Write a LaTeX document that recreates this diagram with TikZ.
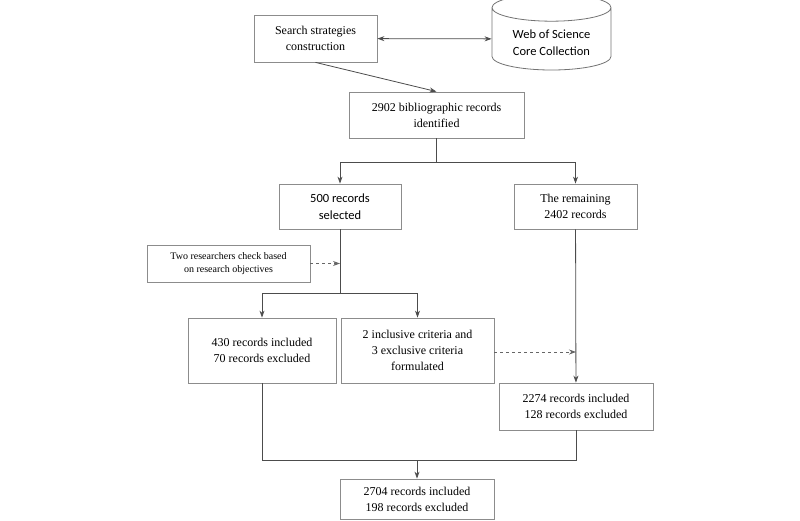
\documentclass[tikz,border=0pt]{standalone}
\usepackage{fontspec}
\setmainfont{Liberation Serif}
\newfontfamily\carl{Carlito}
\usetikzlibrary{shapes.geometric,arrows.meta}
\begin{document}
\begin{tikzpicture}[x=1pt,y=-1pt,
 box/.style={draw=black!45,line width=0.8pt,align=center,font=\fontsize{12}{16}\selectfont,inner sep=0pt},
 ln/.style={draw=black!70,line width=0.8pt},
 ar/.style={ln,-{Stealth[length=7pt,width=5pt]}},
 da/.style={ar,dashed,draw=black!60}]
\useasboundingbox (0,0) rectangle (800,521);
\node[box,minimum width=123,minimum height=47] (s) at (315.5,38.5) {Search strategies\\construction};
\node[cylinder,shape border rotate=90,aspect=0.35,draw=black!55,line width=0.8pt,minimum width=119,minimum height=76,align=center,font=\carl\fontsize{12.5}{17}\selectfont,inner sep=0pt] (w) at (551.5,39) {\\Web of Science\\Core Collection};
\node[box,minimum width=175,minimum height=46] (r) at (436.5,115) {2902 bibliographic records\\identified};
\node[box,minimum width=122,minimum height=45,font=\carl\fontsize{12.5}{17}\selectfont] (a) at (340,206.5) {500 records\\selected};
\node[box,minimum width=123,minimum height=45] (b) at (575.5,206.5) {The remaining\\2402 records};
\node[box,minimum width=163,minimum height=37,font=\fontsize{10}{13}\selectfont] (t) at (228.5,263.5) {Two researchers check based\\on research objectives};
\node[box,minimum width=148,minimum height=65] (c) at (262,350.5) {430 records included\\70 records excluded};
\node[box,minimum width=153,minimum height=65] (d) at (417.5,350.5) {2 inclusive criteria and\\3 exclusive criteria\\formulated};
\node[box,minimum width=154,minimum height=47] (e) at (576,406.5) {2274 records included\\128 records excluded};
\node[box,minimum width=154,minimum height=40] (f) at (417,499) {2704 records included\\198 records excluded};
\draw[ln,{Stealth[length=7pt,width=5pt]}-{Stealth[length=7pt,width=5pt]}] (s) -- (w);
\draw[ar] (s.south) -- (r.north);
\coordinate (j1) at (436.5,162);
\draw[ln] (r) -- (j1);
\draw[ar] (j1) -| (a.north);
\draw[ar] (j1) -| (b.north);
\coordinate (j2) at (340,293);
\coordinate (tj) at (340,263.5);
\draw[ln] (a) -- (j2);
\draw[da] (t) -- (tj);
\draw[ar] (j2) -| (c.north);
\draw[ar] (j2) -| (d.north);
\coordinate (dj) at (576,352);
\draw[da] (d.east |- dj) -- (dj);
\draw[ar] (b) -- (e);
\coordinate (j3) at (417,460);
\draw[ln] (c.south) |- (j3);
\draw[ln] (e.south) |- (j3);
\draw[ar] (j3) -- (f);
\end{tikzpicture}
\end{document}
